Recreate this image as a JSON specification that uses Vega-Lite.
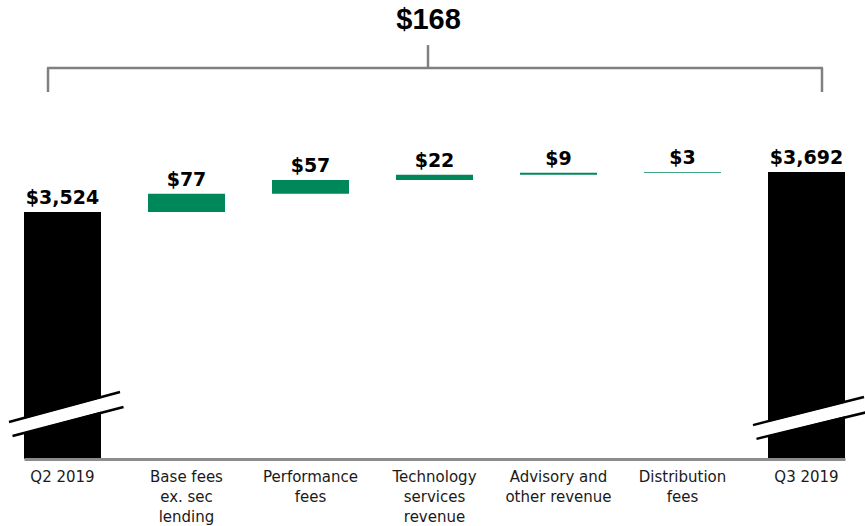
{
  "$schema": "https://vega.github.io/schema/vega-lite/v6.json",
  "width": 865,
  "height": 459,
  "autosize": {"type": "none"},
  "padding": {"left": 0, "right": 0, "top": 0, "bottom": 67},
  "background": "white",
  "config": {"view": {"stroke": null}},
  "datasets": {
    "bars": [
      {"cat": "Q2 2019", "kind": "total", "start": null, "end": 3524, "label": "$3,524"},
      {"cat": "Base fees\nex. sec\nlending", "kind": "delta", "start": 3524, "end": 3601, "label": "$77"},
      {"cat": "Performance\nfees", "kind": "delta", "start": 3601, "end": 3658, "label": "$57"},
      {"cat": "Technology\nservices\nrevenue", "kind": "delta", "start": 3658, "end": 3680, "label": "$22"},
      {"cat": "Advisory and\nother revenue", "kind": "delta", "start": 3680, "end": 3689, "label": "$9"},
      {"cat": "Distribution\nfees", "kind": "delta", "start": 3689, "end": 3692, "label": "$3"},
      {"cat": "Q3 2019", "kind": "total", "start": null, "end": 3692, "label": "$3,692"}
    ],
    "breaks": [
      {"cat": "Q2 2019", "bandLo": 2612, "bandHi": 2737, "upLo": 2642, "upHi": 2768, "lowLo": 2583, "lowHi": 2705},
      {"cat": "Q3 2019", "bandLo": 2600, "bandHi": 2716, "upLo": 2629, "upHi": 2747, "lowLo": 2571, "lowHi": 2684}
    ],
    "bracket": [
      {"left": "Q2 2019", "right": "Q3 2019", "mid": "Technology\nservices\nrevenue", "base": 4129, "foot": 4028, "peak": 4225, "labelAt": 4293, "total": "$168"}
    ]
  },
  "layer": [
    {
      "data": {"name": "bars"},
      "transform": [{"filter": "datum.kind === 'total'"}],
      "mark": {"type": "bar", "color": "#000000", "clip": true},
      "encoding": {
        "x": {
          "field": "cat", "type": "nominal", "title": null,
          "scale": {"domain": ["Q2 2019", "Base fees\nex. sec\nlending", "Performance\nfees", "Technology\nservices\nrevenue", "Advisory and\nother revenue", "Distribution\nfees", "Q3 2019"], "range": [24, 845], "paddingInner": 0.379, "paddingOuter": 0},
          "axis": {
            "zindex": 1, "domainColor": "#8c8c8c", "domainWidth": 3, "ticks": false, "tickSize": 0,
            "labelFont": "DejaVu Sans", "labelFontSize": 15, "labelColor": "#1a1a1a", "labelLineHeight": 20,
            "labelPadding": 10, "labelAngle": 0, "labelOverlap": false, "labelLimit": 300,
            "labelExpr": "split(datum.value, '\\n')"
          }
        },
        "y": {"field": "end", "type": "quantitative", "axis": null, "scale": {"domain": [2486.6, 4414.4], "zero": false, "nice": false}}
      }
    },
    {
      "data": {"name": "bars"},
      "transform": [{"filter": "datum.kind === 'delta'"}],
      "mark": {"type": "bar", "color": "#00875a"},
      "encoding": {
        "x": {"field": "cat", "type": "nominal", "title": null},
        "y": {"field": "end", "type": "quantitative", "axis": null, "scale": {"domain": [2486.6, 4414.4], "zero": false, "nice": false}},
        "y2": {"field": "start"}
      }
    },
    {
      "data": {"name": "breaks"},
      "mark": {"type": "rule", "color": "white", "strokeWidth": 13, "xOffset": -51.5, "x2Offset": 59},
      "encoding": {
        "x": {"field": "cat", "type": "nominal", "title": null},
        "x2": {"field": "cat"},
        "y": {"field": "bandLo", "type": "quantitative", "axis": null, "scale": {"domain": [2486.6, 4414.4], "zero": false, "nice": false}},
        "y2": {"field": "bandHi"}
      }
    },
    {
      "data": {"name": "breaks"},
      "mark": {"type": "rule", "color": "black", "strokeWidth": 2.5, "xOffset": -53.5, "x2Offset": 57.5},
      "encoding": {
        "x": {"field": "cat", "type": "nominal", "title": null},
        "x2": {"field": "cat"},
        "y": {"field": "upLo", "type": "quantitative", "axis": null, "scale": {"domain": [2486.6, 4414.4], "zero": false, "nice": false}},
        "y2": {"field": "upHi"}
      }
    },
    {
      "data": {"name": "breaks"},
      "mark": {"type": "rule", "color": "black", "strokeWidth": 2.5, "xOffset": -50, "x2Offset": 61},
      "encoding": {
        "x": {"field": "cat", "type": "nominal", "title": null},
        "x2": {"field": "cat"},
        "y": {"field": "lowLo", "type": "quantitative", "axis": null, "scale": {"domain": [2486.6, 4414.4], "zero": false, "nice": false}},
        "y2": {"field": "lowHi"}
      }
    },
    {
      "data": {"name": "bars"},
      "mark": {"type": "text", "font": "DejaVu Sans", "fontWeight": "bold", "fontSize": 19, "baseline": "alphabetic", "dy": -8, "color": "black"},
      "encoding": {
        "x": {"field": "cat", "type": "nominal", "title": null},
        "y": {"field": "end", "type": "quantitative", "axis": null, "scale": {"domain": [2486.6, 4414.4], "zero": false, "nice": false}},
        "text": {"field": "label"}
      }
    },
    {
      "data": {"name": "bracket"},
      "mark": {"type": "rule", "color": "#808080", "strokeWidth": 2.5, "xOffset": -15.5, "x2Offset": 16.5},
      "encoding": {
        "x": {"field": "left", "type": "nominal", "title": null},
        "x2": {"field": "right"},
        "y": {"field": "base", "type": "quantitative", "axis": null, "scale": {"domain": [2486.6, 4414.4], "zero": false, "nice": false}}
      }
    },
    {
      "data": {"name": "bracket"},
      "mark": {"type": "rule", "color": "#808080", "strokeWidth": 2.5, "xOffset": -14.5},
      "encoding": {
        "x": {"field": "left", "type": "nominal", "title": null},
        "y": {"field": "base", "type": "quantitative", "axis": null, "scale": {"domain": [2486.6, 4414.4], "zero": false, "nice": false}},
        "y2": {"field": "foot"}
      }
    },
    {
      "data": {"name": "bracket"},
      "mark": {"type": "rule", "color": "#808080", "strokeWidth": 2.5, "xOffset": 15.5},
      "encoding": {
        "x": {"field": "right", "type": "nominal", "title": null},
        "y": {"field": "base", "type": "quantitative", "axis": null, "scale": {"domain": [2486.6, 4414.4], "zero": false, "nice": false}},
        "y2": {"field": "foot"}
      }
    },
    {
      "data": {"name": "bracket"},
      "mark": {"type": "rule", "color": "#808080", "strokeWidth": 2.5, "xOffset": -6.5},
      "encoding": {
        "x": {"field": "mid", "type": "nominal", "title": null},
        "y": {"field": "base", "type": "quantitative", "axis": null, "scale": {"domain": [2486.6, 4414.4], "zero": false, "nice": false}},
        "y2": {"field": "peak"}
      }
    },
    {
      "data": {"name": "bracket"},
      "mark": {"type": "text", "font": "Liberation Sans", "fontWeight": "bold", "fontSize": 29, "baseline": "alphabetic", "xOffset": -6, "color": "black"},
      "encoding": {
        "x": {"field": "mid", "type": "nominal", "title": null},
        "y": {"field": "labelAt", "type": "quantitative", "axis": null, "scale": {"domain": [2486.6, 4414.4], "zero": false, "nice": false}},
        "text": {"field": "total"}
      }
    }
  ]
}
